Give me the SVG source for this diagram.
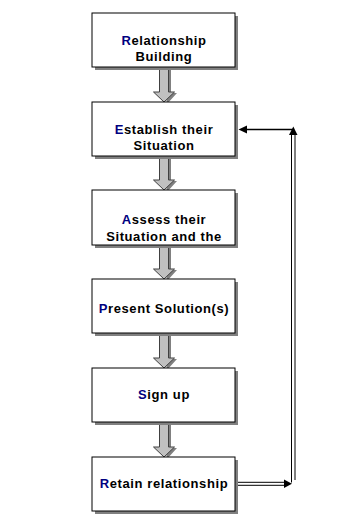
<svg xmlns="http://www.w3.org/2000/svg" width="354" height="522" viewBox="0 0 354 522">
<defs>
<style>
.shadow{fill:#808080}
.box{fill:#ffffff;stroke:#000000;stroke-width:1}
.t{font-family:"Liberation Sans",Arial,sans-serif;font-weight:bold;font-size:13px;letter-spacing:0.6px;fill:#000000;text-anchor:middle}
.f{fill:#000080}
.blk{fill:#c0c0c0;stroke:#404040;stroke-width:1}
.blks{fill:#808080}
.ln{stroke:#000000;stroke-width:1}
</style>
</defs>

<g id="connectors">
  <g id="a1"><path class="blks" d="M162,69 L171,69 L171,93 L177,93 L167,104 Z"/><path class="blk" d="M159.5,68 L168.5,68 L168.5,92 L174.5,92 L164,102 L153.5,92 L159.5,92 Z"/></g>
  <g id="a2"><path class="blks" d="M162,158 L171,158 L171,181 L177,181 L167,192 Z"/><path class="blk" d="M159.5,157 L168.5,157 L168.5,180 L174.5,180 L164,190 L153.5,180 L159.5,180 Z"/></g>
  <g id="a3"><path class="blks" d="M162,246 L171,246 L171,270 L177,270 L167,281 Z"/><path class="blk" d="M159.5,245.5 L168.5,245.5 L168.5,269 L174.5,269 L164,279 L153.5,269 L159.5,269 Z"/></g>
  <g id="a4"><path class="blks" d="M162,335 L171,335 L171,359 L177,359 L167,370 Z"/><path class="blk" d="M159.5,334 L168.5,334 L168.5,358 L174.5,358 L164,368 L153.5,358 L159.5,358 Z"/></g>
  <g id="a5"><path class="blks" d="M162,424 L171,424 L171,448 L177,448 L167,459 Z"/><path class="blk" d="M159.5,423 L168.5,423 L168.5,447 L174.5,447 L164,457 L153.5,447 L159.5,447 Z"/></g>
  <g id="loop">
    <line class="ln" x1="238" y1="482.3" x2="285" y2="482.3"/>
    <line class="ln" x1="238" y1="485.3" x2="285" y2="485.3"/>
    <path d="M284,479.5 L292,483.8 L284,488 Z" fill="#000"/>
    <line class="ln" x1="291.5" y1="482.5" x2="291.5" y2="134"/>
    <line class="ln" x1="295" y1="480" x2="295" y2="134"/>
    <path d="M289,135 L293.3,126.5 L297.5,135 Z" fill="#000"/>
    <line x1="293" y1="129.5" x2="246" y2="129.5" stroke="#000" stroke-width="1.6"/>
    <path d="M247,125.5 L238.5,129.5 L247,133.5 Z" fill="#000"/>
  </g>
</g>

<g id="n1"><rect class="shadow" x="95" y="16" width="143" height="54"/><rect class="box" x="92" y="13" width="143" height="54"/>
<text class="t" x="164" y="44.5"><tspan class="f">R</tspan>elationship</text><text class="t" x="164" y="61">Building</text></g>

<g id="n2"><rect class="shadow" x="95" y="105" width="143" height="54"/><rect class="box" x="92" y="102" width="143" height="54"/>
<text class="t" x="164" y="133.5"><tspan class="f">E</tspan>stablish their</text><text class="t" x="164" y="150">Situation</text></g>

<g id="n3"><rect class="shadow" x="95" y="193" width="143" height="55"/><rect class="box" x="92" y="190" width="143" height="55"/>
<text class="t" x="164" y="224"><tspan class="f">A</tspan>ssess their</text><text class="t" x="164" y="240.5">Situation and the</text></g>

<g id="n4"><rect class="shadow" x="95" y="282" width="143" height="54"/><rect class="box" x="92" y="279" width="143" height="54"/>
<text class="t" x="164" y="313"><tspan class="f">P</tspan>resent Solution(s)</text></g>

<g id="n5"><rect class="shadow" x="95" y="371" width="143" height="54"/><rect class="box" x="92" y="368" width="143" height="54"/>
<text class="t" x="164" y="399"><tspan class="f">S</tspan>ign up</text></g>

<g id="n6"><rect class="shadow" x="95" y="460" width="143" height="54"/><rect class="box" x="92" y="457" width="143" height="54"/>
<text class="t" x="164" y="488"><tspan class="f">R</tspan>etain relationship</text></g>
</svg>
